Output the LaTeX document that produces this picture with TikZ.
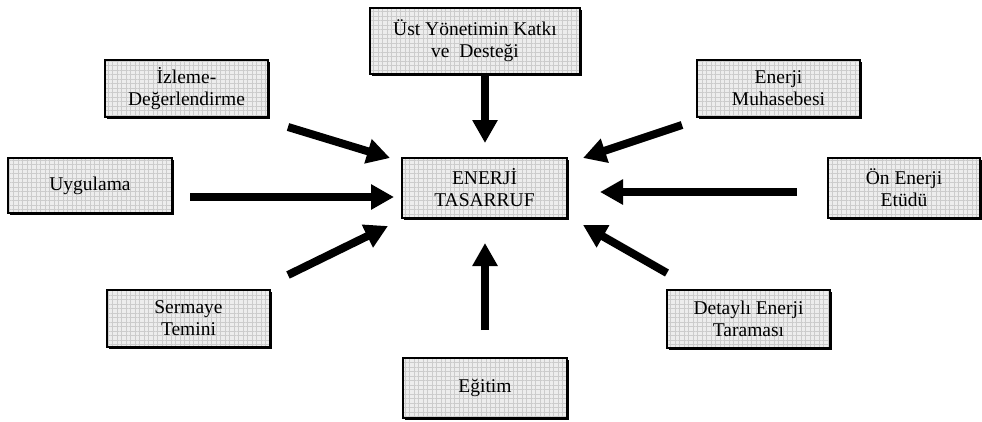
\documentclass[tikz,border=0pt]{standalone}
\usepackage{fontspec}
\setmainfont{Liberation Serif}
\usetikzlibrary{arrows.meta,shadows,patterns.meta}
\tikzset{
  enbox/.style={draw=black,line width=1.1pt,align=center,inner sep=2pt,
    font=\fontsize{19.5}{22}\selectfont,
    drop shadow={shadow xshift=1.6pt,shadow yshift=-1.6pt,fill=black,opacity=1},
    preaction={fill=gray!14},
    pattern={Hatch[angle=0,distance=4.5pt,line width=0.4pt]},pattern color=gray!40},
  fatarrow/.style={-{Triangle[length=23pt,width=24pt]},line width=8pt,draw=black}
}

\begin{document}
\begin{tikzpicture}[x=1pt,y=-1pt]
\useasboundingbox (0,0) rectangle (982,421);
% kutular
\node[enbox,minimum width=210pt,minimum height=66pt] (ust) at (475,41) {Üst Yönetimin Katkı\\ve\ \ Desteği};
\node[enbox,minimum width=163pt,minimum height=57pt] (izle) at (186.5,88.5) {İzleme-\\Değerlendirme};
\node[enbox,minimum width=164pt,minimum height=55pt] (uyg) at (90,185.5) {Uygulama};
\node[enbox,minimum width=163pt,minimum height=57pt] (serm) at (188.5,318.5) {Sermaye\\Temini};
\node[enbox,minimum width=164pt,minimum height=60pt] (egit) at (485,388) {Eğitim};
\node[enbox,minimum width=165pt,minimum height=60pt] (enerji) at (484.5,188) {ENERJİ\\TASARRUF};
\node[enbox,minimum width=163pt,minimum height=57pt] (muh) at (778.5,88.5) {Enerji\\Muhasebesi};
\node[enbox,minimum width=152pt,minimum height=60pt] (on) at (904,188) {Ön Enerji\\Etüdü};
\node[enbox,minimum width=163pt,minimum height=58pt] (det) at (748.5,319) {Detaylı Enerji\\Taraması};

% oklar
\coordinate (ust-s) at (485,75);    \coordinate (ust-e) at (485,143);
\coordinate (izle-s) at (288,127);  \coordinate (izle-e) at (390,158);
\coordinate (uyg-s) at (190,197);   \coordinate (uyg-e) at (394,197);
\coordinate (serm-s) at (288,275);  \coordinate (serm-e) at (388,226);
\coordinate (egit-s) at (485,330);  \coordinate (egit-e) at (485,243);
\coordinate (muh-s) at (682,125);   \coordinate (muh-e) at (583,158);
\coordinate (on-s) at (797,192);    \coordinate (on-e) at (600,192);
\coordinate (det-s) at (667,273);   \coordinate (det-e) at (583,225);
\foreach \k in {ust,izle,uyg,serm,egit,muh,on,det}
  \draw[fatarrow] (\k-s) -- (\k-e);
\end{tikzpicture}
\end{document}
